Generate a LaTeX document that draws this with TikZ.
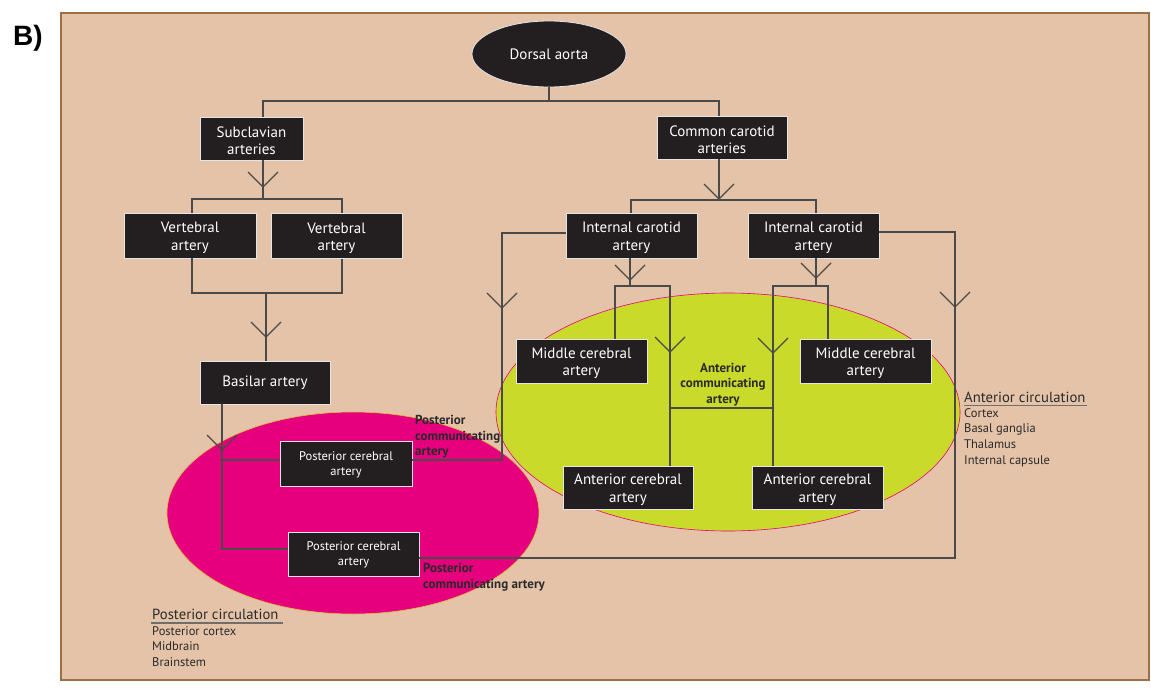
\documentclass[tikz,border=0pt]{standalone}
\usepackage{fontspec}
\setmainfont{PT Sans}
\newfontfamily\hel{Liberation Sans}
\usetikzlibrary{shapes.geometric}
\definecolor{bgc}{HTML}{E4C3A8}
\definecolor{framec}{HTML}{9A7044}
\definecolor{boxc}{HTML}{231F20}
\definecolor{linec}{HTML}{4A4A4A}
\definecolor{antgreen}{HTML}{C9DA2A}
\definecolor{magent}{HTML}{E6007E}
\definecolor{txtc}{HTML}{2A2A2A}
\definecolor{yelline}{HTML}{D8C23A}
\newcommand{\bst}{\rule{0pt}{15pt}}
\newcommand{\sst}{\rule{0pt}{11pt}}
\begin{document}
\begin{tikzpicture}[x=1pt,y=-1pt,
 conn/.style={draw=linec,line width=1.3pt},
 uline/.style={draw=linec!80,line width=1.1pt},
 box/.style={rectangle,fill=boxc,draw=white!80!gray,line width=0.8pt,text=white,align=center,inner sep=0pt,font=\fontsize{15}{17.5}\selectfont},
 sbox/.style={box,font=\fontsize{12.5}{15}\selectfont},
 lbl/.style={text=txtc,align=left,inner sep=0pt,anchor=north west,font=\bfseries\fontsize{13}{15.7}\selectfont},
 circt/.style={text=txtc,inner sep=0pt,anchor=base west,font=\fontsize{14.7}{16}\selectfont},
 circl/.style={text=txtc,align=left,inner sep=0pt,anchor=north west,font=\fontsize{12.5}{15.7}\selectfont},
 chev/.pic={\draw[conn] (-15,-15) -- (0,0) -- (15,-15);}
]
\useasboundingbox (0,0) rectangle (1151,688);
\fill[white] (0,0) rectangle (1151,688);
\draw[draw=framec,line width=2.5pt,fill=bgc] (61,13) rectangle (1149,680);
\node[font=\hel\bfseries\fontsize{28}{30}\selectfont,inner sep=0pt] (lab) at (28,38) {B)};

% regions
\node[ellipse,fill=antgreen,draw=magent,line width=0.6pt,minimum width=464pt,minimum height=238pt,inner sep=0pt] (antreg) at (728,412) {};
\node[ellipse,fill=magent,draw=yelline,line width=0.6pt,minimum width=372pt,minimum height=202pt,inner sep=0pt] (postreg) at (353,513) {};

% nodes
\node[ellipse,fill=boxc,draw=white!80!gray,line width=0.8pt,text=white,minimum width=154pt,minimum height=66pt,inner sep=0pt,font=\fontsize{15}{18}\selectfont] (aorta) at (549,54) {Dorsal aorta};
\node[box,minimum width=103pt,minimum height=43pt] (subc) at (251.5,138.5) {\bst Subclavian\\arteries};
\node[box,minimum width=130pt,minimum height=43pt] (ccar) at (722,137.5) {\bst Common carotid\\arteries};
\node[box,minimum width=132pt,minimum height=45pt] (vertL) at (190,235.5) {\bst Vertebral\\artery};
\node[box,minimum width=131pt,minimum height=45pt] (vertR) at (336.5,236) {\bst Vertebral\\artery};
\node[box,minimum width=130pt,minimum height=43pt] (basilar) at (265,382.5) {Basilar artery};
\node[box,minimum width=131pt,minimum height=45pt] (icaL) at (631.5,235.5) {\bst Internal carotid\\artery};
\node[box,minimum width=131pt,minimum height=45pt] (icaR) at (813.5,235.5) {\bst Internal carotid\\artery};
\node[box,minimum width=131pt,minimum height=44pt] (mcaL) at (581.5,361) {\bst Middle cerebral\\artery};
\node[box,minimum width=131pt,minimum height=44pt] (mcaR) at (865.5,361) {\bst Middle cerebral\\artery};
\node[box,minimum width=130pt,minimum height=43pt] (acaL) at (628,487.5) {\bst Anterior cerebral\\artery};
\node[box,minimum width=131pt,minimum height=43pt] (acaR) at (817.5,487.5) {\bst Anterior cerebral\\artery};
\node[sbox,minimum width=132pt,minimum height=45pt] (pcaA) at (346,463.5) {\sst Posterior cerebral\\artery};
\node[sbox,minimum width=131pt,minimum height=44pt] (pcaB) at (353.5,554) {\sst Posterior cerebral\\artery};

% junctions
\coordinate (jA) at (549,101);
\coordinate (jB) at (263,199);
\coordinate (jC) at (266,293);
\coordinate (jD1) at (222,460);
\coordinate (jD2) at (222,549);
\coordinate (jE) at (502,460);
\coordinate (jF) at (955,558);
\coordinate (jG) at (719,200);
\coordinate (jH) at (630,286);
\coordinate (jI) at (816,286);
\coordinate (acL) at (670,408);
\coordinate (acR) at (773,408);

% connectors
\draw[conn] (aorta.south) -- (jA);
\draw[conn] ([xshift=11.5pt]subc.north) |- (jA) -| ([xshift=-3pt]ccar.north);
\draw[conn] ([xshift=11.5pt]subc.south) -- (jB);
\draw[conn] ([xshift=2pt]vertL.north) |- (jB) -| ([xshift=5.5pt]vertR.north);
\pic at (263,187) {chev};
\draw[conn] ([xshift=2pt]vertL.south) |- (jC) -| ([xshift=5.5pt]vertR.south);
\draw[conn] (jC) -- (jC |- basilar.north);
\pic at (266,337) {chev};
\draw[conn] ([xshift=-43pt]basilar.south) -- (jD2) -- (jD2 -| pcaB.west);
\draw[conn] (jD1) -- (jD1 -| pcaA.west);
\pic at (222,450) {chev};
\draw[conn] (jE -| pcaA.east) -- (jE) |- ([yshift=2.5pt]icaL.west);
\pic at (502,308) {chev};
\draw[conn] (jF -| pcaB.east) -- (jF) |- ([yshift=3.5pt]icaR.east);
\pic at (955,307) {chev};
\draw[conn] ([xshift=-3pt]ccar.south) -- (jG);
\draw[conn] ([xshift=-0.5pt]icaL.north) |- (jG) -| ([xshift=2.5pt]icaR.north);
\pic at (719,199) {chev};
\draw[conn] ([xshift=-1.5pt]icaL.south) -- (jH);
\draw[conn] ([xshift=33.5pt]mcaL.north) |- (jH) -| ([xshift=42pt]acaL.north);
\pic at (630,280) {chev};
\pic at (670,352) {chev};
\draw[conn] ([xshift=2.5pt]icaR.south) -- (jI);
\draw[conn] ([xshift=-44.5pt]acaR.north) |- (jI) -| ([xshift=-37.5pt]mcaR.north);
\pic at (816,278) {chev};
\pic at (773,353) {chev};
\draw[conn] (acL) -- (acR);

% labels
\node[lbl,align=center,anchor=center] (acomm) at (723,384.5) {Anterior\\communicating\\artery};
\node[lbl] (pcomm1) at (415,415) {Posterior\\communicating\\artery};
\node[lbl] (pcomm2) at (423,563) {Posterior\\communicating artery};

\node[circt] (antT) at (964,402) {Anterior circulation};
\draw[uline] (964,405.5) -- (1087,405.5);
\node[circl] (antL) at (964,408) {Cortex\\Basal ganglia\\Thalamus\\Internal capsule};

\node[circt] (postT) at (152,619.5) {Posterior circulation};
\draw[uline] (151,623) -- (283,623);
\node[circl] (postL) at (152,626) {Posterior cortex\\Midbrain\\Brainstem};
\end{tikzpicture}
\end{document}
